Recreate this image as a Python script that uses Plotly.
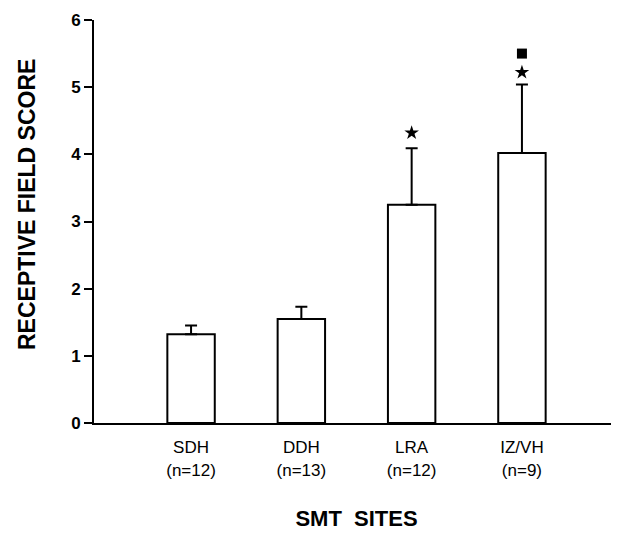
import plotly.graph_objects as go

categories = ["SDH", "DDH", "LRA", "IZ/VH"]
n_labels = ["(n=12)", "(n=13)", "(n=12)", "(n=9)"]
means = [1.32, 1.55, 3.25, 4.02]
sem = [0.13, 0.18, 0.84, 1.02]
star_cats = ["LRA", "IZ/VH"]
star_y = [4.32, 5.22]
square_cats = ["IZ/VH"]
square_y = [5.5]
y_ticks = [0, 1, 2, 3, 4, 5, 6]

ticktext = [f"{c}<br>{n}" for c, n in zip(categories, n_labels)]

fig = go.Figure()
fig.add_trace(go.Bar(
    x=categories, y=means, width=0.43,
    marker=dict(color="white", line=dict(color="black", width=2)),
    error_y=dict(type="data", array=sem, arrayminus=[0]*len(sem), symmetric=False,
                 color="black", thickness=2, width=6),
    showlegend=False,
))
fig.add_trace(go.Scatter(
    x=star_cats, y=star_y, mode="markers",
    marker=dict(symbol="star", size=11, color="black"), showlegend=False,
))
fig.add_trace(go.Scatter(
    x=square_cats, y=square_y, mode="markers",
    marker=dict(symbol="square", size=10, color="black"), showlegend=False,
))

fig.update_layout(
    width=611, height=525,
    margin=dict(l=86, r=0, t=12, b=110),
    plot_bgcolor="white", paper_bgcolor="white",
    font=dict(family="Liberation Sans, Arial, sans-serif", color="black"),
    xaxis=dict(
        type="category", range=[-0.88, 3.88],
        tickmode="array", tickvals=categories, ticktext=ticktext,
        tickfont=dict(size=17), ticks="outside", ticklen=8, tickcolor="rgba(0,0,0,0)",
        showgrid=False,
        showline=True, linecolor="black", linewidth=2,
        title=dict(text="SMT&nbsp;&nbsp;SITES", font=dict(size=22, weight="bold"), standoff=32),
    ),
    yaxis=dict(
        range=[0, 6], tickvals=y_ticks, ticks="outside", ticklen=8, tickwidth=2,
        tickcolor="black", tickfont=dict(size=17, weight="bold"),
        showgrid=False, zeroline=False, showline=True, linecolor="black", linewidth=2,
    ),
    annotations=[dict(
        text="RECEPTIVE&nbsp;FIELD&nbsp;SCORE", textangle=-90,
        xref="paper", yref="paper", x=-0.1276, y=0.541, xanchor="center", yanchor="middle",
        showarrow=False, font=dict(size=23, weight="bold"),
    )],
)

fig.write_html("out.html")
